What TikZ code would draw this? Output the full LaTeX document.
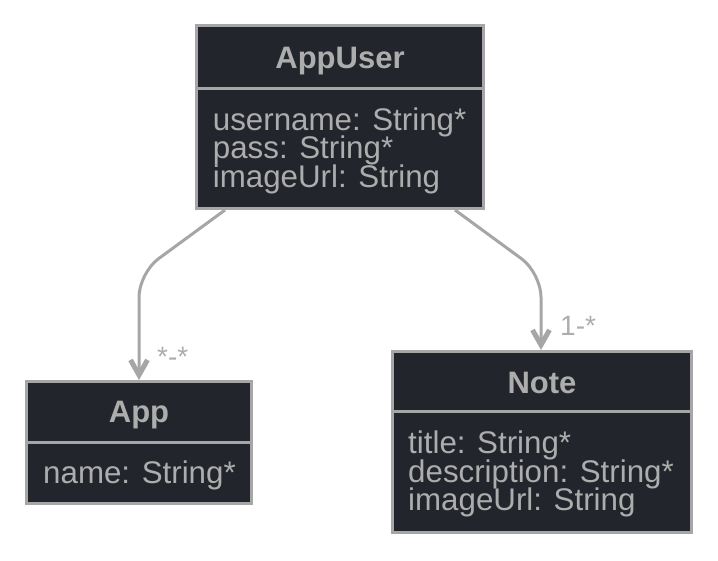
\documentclass[tikz,border=0pt]{standalone}
\usepackage{fontspec}
\setmainfont{Liberation Sans}
\usetikzlibrary{arrows.meta}
\definecolor{boxfill}{HTML}{22252B}
\definecolor{edgecol}{HTML}{A6A6A6}
\definecolor{txtcol}{HTML}{ADADAD}
\begin{document}
\begin{tikzpicture}[x=1pt,y=-1pt]
\tikzset{
  classbox/.style={draw=edgecol, fill=boxfill, line width=3pt, inner sep=0pt},
  divline/.style={draw=edgecol, line width=3pt},
  ttl/.style={font=\bfseries\fontsize{31}{31}\selectfont, text=txtcol, anchor=base, inner sep=0pt},
  attr/.style={font=\fontsize{31.3}{31}\selectfont, text=txtcol, anchor=base west, inner sep=0pt},
  lbl/.style={font=\fontsize{28}{28}\selectfont, text=txtcol, anchor=base west, inner sep=0pt},
  rel/.style={draw=edgecol, line width=3pt, rounded corners=24pt,
    -{Straight Barb[length=15pt, width=17pt, line width=5pt]}},
}
\useasboundingbox (0,0) rectangle (718,560);
% boxes
\node[classbox, minimum width=287pt, minimum height=183pt] (appuser) at (340,117) {};
\node[classbox, minimum width=225pt, minimum height=122pt] (app) at (139,442.5) {};
\node[classbox, minimum width=299pt, minimum height=181pt] (note) at (542,442) {};
% dividers
\draw[divline] (appuser.west |- 0,88) -- (appuser.east |- 0,88);
\draw[divline] (app.west |- 0,442) -- (app.east |- 0,442);
\draw[divline] (note.west |- 0,411) -- (note.east |- 0,411);
% texts
\node[ttl] (t1) at (340,68) {AppUser};
\node[attr] (a1) at (212.7,130) {username: String*};
\node[attr] (a2) at (212.7,158) {pass: String*};
\node[attr] (a3) at (212.7,187) {imageUrl: String};
\node[ttl] (t2) at (139,422) {App};
\node[attr] (b1) at (43,483) {name: String*};
\node[ttl] (t3) at (542,393) {Note};
\node[attr] (c1) at (408,453) {title: String*};
\node[attr] (c2) at (408,482) {description: String*};
\node[attr] (c3) at (408,510) {imageUrl: String};
% relations
\coordinate (k1) at (139,273);
\coordinate (k2) at (541,273);
\draw[rel] (appuser.south -| 225,0) -- (k1) -- (app.north);
\draw[rel] (appuser.south -| 455,0) -- (k2) -- (note.north -| k2);
\node[lbl] (l1) at (157,366) {*-*};
\node[lbl] (l2) at (560,335) {1-*};
\end{tikzpicture}
\end{document}
